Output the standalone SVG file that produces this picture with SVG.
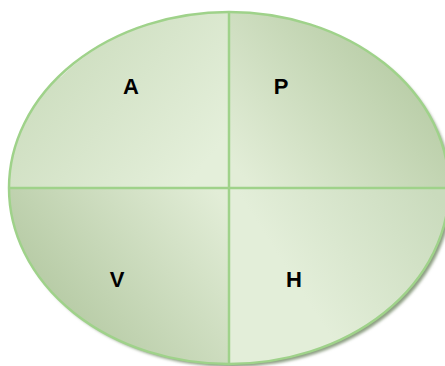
<svg xmlns="http://www.w3.org/2000/svg" width="445" height="366" viewBox="0 0 445 366">
<defs>
<style>
.lbl{font-family:"Liberation Sans",Arial,sans-serif;font-weight:bold;font-size:22px;fill:#000;text-anchor:middle}
.div{stroke:#9fd28a;stroke-width:2.5;fill:none}
</style>
<linearGradient id="gA" gradientUnits="userSpaceOnUse" x1="40" y1="40" x2="200" y2="170"><stop offset="0" stop-color="#cbdcbd"/><stop offset="1" stop-color="#e4efda"/></linearGradient>
<linearGradient id="gP" gradientUnits="userSpaceOnUse" x1="410" y1="50" x2="250" y2="185"><stop offset="0" stop-color="#b6cba4"/><stop offset="1" stop-color="#e2edd7"/></linearGradient>
<linearGradient id="gV" gradientUnits="userSpaceOnUse" x1="50" y1="330" x2="220" y2="195"><stop offset="0" stop-color="#b3c8a1"/><stop offset="1" stop-color="#e2edd7"/></linearGradient>
<linearGradient id="gH" gradientUnits="userSpaceOnUse" x1="440" y1="200" x2="300" y2="290"><stop offset="0" stop-color="#cadbbd"/><stop offset="1" stop-color="#e3eed9"/></linearGradient>
<filter id="sh" x="-10%" y="-10%" width="120%" height="120%"><feGaussianBlur stdDeviation="1.5"/></filter>
</defs>
<ellipse cx="232" cy="191" rx="220" ry="176" fill="#8c9e82" filter="url(#sh)"/>
<g id="quadrant-A">
<path d="M229,188 L9,188 A220,176 0 0 1 229,12 Z" fill="url(#gA)"/>
<text class="lbl" x="131" y="94">A</text>
</g>
<g id="quadrant-P">
<path d="M229,188 L229,12 A220,176 0 0 1 449,188 Z" fill="url(#gP)"/>
<text class="lbl" x="281" y="94">P</text>
</g>
<g id="quadrant-H">
<path d="M229,188 L449,188 A220,176 0 0 1 229,364 Z" fill="url(#gH)"/>
<text class="lbl" x="294" y="287">H</text>
</g>
<g id="quadrant-V">
<path d="M229,188 L229,364 A220,176 0 0 1 9,188 Z" fill="url(#gV)"/>
<text class="lbl" x="117" y="287">V</text>
</g>
<g id="connectors">
<path d="M60,77 A216,172 0 0 1 400,77" fill="none" stroke="#ffffff" stroke-opacity="0.45" stroke-width="1.5"/>
<ellipse class="div" cx="229" cy="188" rx="220" ry="176"/>
<line class="div" x1="229" y1="12" x2="229" y2="364"/>
<line class="div" x1="9" y1="188" x2="449" y2="188"/>
</g>
</svg>
